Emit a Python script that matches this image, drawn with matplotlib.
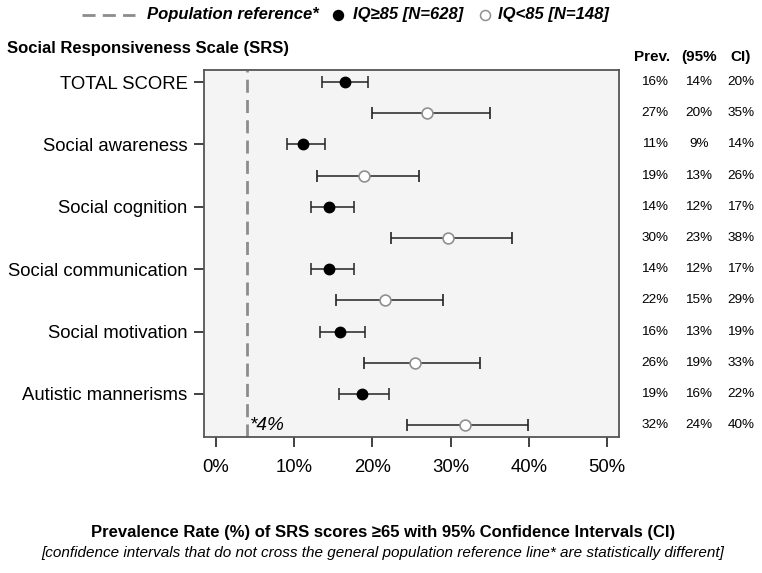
import matplotlib.pyplot as plt
import matplotlib.transforms as mtransforms
from matplotlib.lines import Line2D

plt.rcParams['font.family'] = ['Liberation Sans', 'DejaVu Sans']

# data
domains = ['TOTAL SCORE', 'Social awareness', 'Social cognition',
           'Social communication', 'Social motivation', 'Autistic mannerisms']
hi_prev = [16.5, 11.2, 14.5, 14.5, 15.9, 18.7]
hi_lo = [13.6, 9.1, 12.2, 12.2, 13.3, 15.8]
hi_up = [19.4, 14.0, 17.6, 17.6, 19.0, 22.1]
lo_prev = [27.0, 18.9, 29.7, 21.6, 25.5, 31.8]
lo_lo = [20.0, 12.9, 22.4, 15.3, 18.9, 24.4]
lo_up = [35.0, 26.0, 37.8, 29.0, 33.7, 39.9]
hi_table = [('16%', '14%', '20%'), ('11%', '9%', '14%'), ('14%', '12%', '17%'),
            ('14%', '12%', '17%'), ('16%', '13%', '19%'), ('19%', '16%', '22%')]
lo_table = [('27%', '20%', '35%'), ('19%', '13%', '26%'), ('30%', '23%', '38%'),
            ('22%', '15%', '29%'), ('26%', '19%', '33%'), ('32%', '24%', '40%')]
table_head = ['Prev.', '(95%', 'CI)']
pop_ref = 4
xticks = [0, 10, 20, 30, 40, 50]

W, H = 762, 573
REF_GRAY = '#8c8c8c'
DASH = (0, (4.7, 2.6))

fig = plt.figure(figsize=(W / 100, H / 100), dpi=100)
ax = fig.add_axes([204 / W, 1 - 437 / H, 415 / W, 367 / H])
ax.set_facecolor('#f4f4f4')

hi_y = [2 * i for i in range(len(domains))]
lo_y = [2 * i + 1 for i in range(len(domains))]

ax.axvline(pop_ref, color=REF_GRAY, lw=2, ls=DASH, zorder=1)

ax.errorbar(hi_prev, hi_y,
            xerr=[[p - l for p, l in zip(hi_prev, hi_lo)], [u - p for p, u in zip(hi_prev, hi_up)]],
            fmt='o', color='black', ecolor='#222222', elinewidth=1.1, capsize=4.3, capthick=1.1,
            markersize=7.5, zorder=3)
ax.errorbar(lo_prev, lo_y,
            xerr=[[p - l for p, l in zip(lo_prev, lo_lo)], [u - p for p, u in zip(lo_prev, lo_up)]],
            fmt='o', color='#222222', ecolor='#222222', elinewidth=1.1, capsize=4.3, capthick=1.1,
            markersize=7.8, markerfacecolor='white', markeredgecolor='#909090', markeredgewidth=1.2,
            zorder=3)

ax.text(pop_ref + 0.35, lo_y[-1], '*4%', fontsize=13.7, style='italic', va='center', ha='left')

ax.set_xlim(-1.5, 51.5)
ax.set_ylim(11.38, -0.385)
ax.set_xticks(xticks)
ax.set_xticklabels([f'{t}%' for t in xticks], fontsize=13.3)
ax.set_yticks(hi_y)
ax.set_yticklabels(domains, fontsize=13.3)
ax.tick_params(axis='both', direction='out', length=7.5, width=1.3, color='#333333')
ax.tick_params(axis='x', pad=8)
ax.tick_params(axis='y', pad=4.3)
for s in ax.spines.values():
    s.set_color('#555555')
    s.set_linewidth(1.3)

# table on the right
trans = mtransforms.blended_transform_factory(fig.transFigure, ax.transData)
col_x = [655 / W, 699 / W, 741 / W]
head_x = [652 / W, 699.5 / W, 740.5 / W]
for i in range(len(domains)):
    for y, row in ((hi_y[i], hi_table[i]), (lo_y[i], lo_table[i])):
        for cx, val in zip(col_x, row):
            ax.text(cx, y, val, transform=trans, fontsize=9.7, ha='center', va='center',
                    clip_on=False)
for cx, h in zip(head_x, table_head):
    fig.text(cx, 1 - 57 / H, h, fontsize=11, fontweight='bold', ha='center', va='center')

fig.text(7 / W, 1 - 48 / H, 'Social Responsiveness Scale (SRS)', fontsize=12,
         fontweight='bold', ha='left', va='center')

fig.text(383 / W, 1 - 533 / H, 'Prevalence Rate (%) of SRS scores \u226565 with 95% Confidence Intervals (CI)',
         fontsize=12, fontweight='bold', ha='center', va='center')
fig.text(382.5 / W, 1 - 553 / H,
         '[confidence intervals that do not cross the general population reference line* are statistically different]',
         fontsize=11, style='italic', ha='center', va='center')

# legend drawn by hand so the spacing follows the reference
leg_y = 1 - 15 / H
fig.add_artist(Line2D([82 / W, 135 / W], [leg_y, leg_y], transform=fig.transFigure,
                      color=REF_GRAY, lw=2, ls=DASH))
fig.add_artist(Line2D([338 / W], [leg_y], transform=fig.transFigure, marker='o', ls='none',
                      color='black', markersize=7.2))
fig.add_artist(Line2D([485 / W], [leg_y], transform=fig.transFigure, marker='o', ls='none',
                      markersize=7.2, markerfacecolor='white', markeredgecolor='#909090',
                      markeredgewidth=1.1))
for lx, lab in zip([147, 353, 498], ['Population reference*', 'IQ\u226585 [N=628]', 'IQ<85 [N=148]']):
    fig.text(lx / W, leg_y, lab, fontsize=12, fontweight='bold', style='italic',
             ha='left', va='center')

fig.savefig('out.png', dpi=100)
